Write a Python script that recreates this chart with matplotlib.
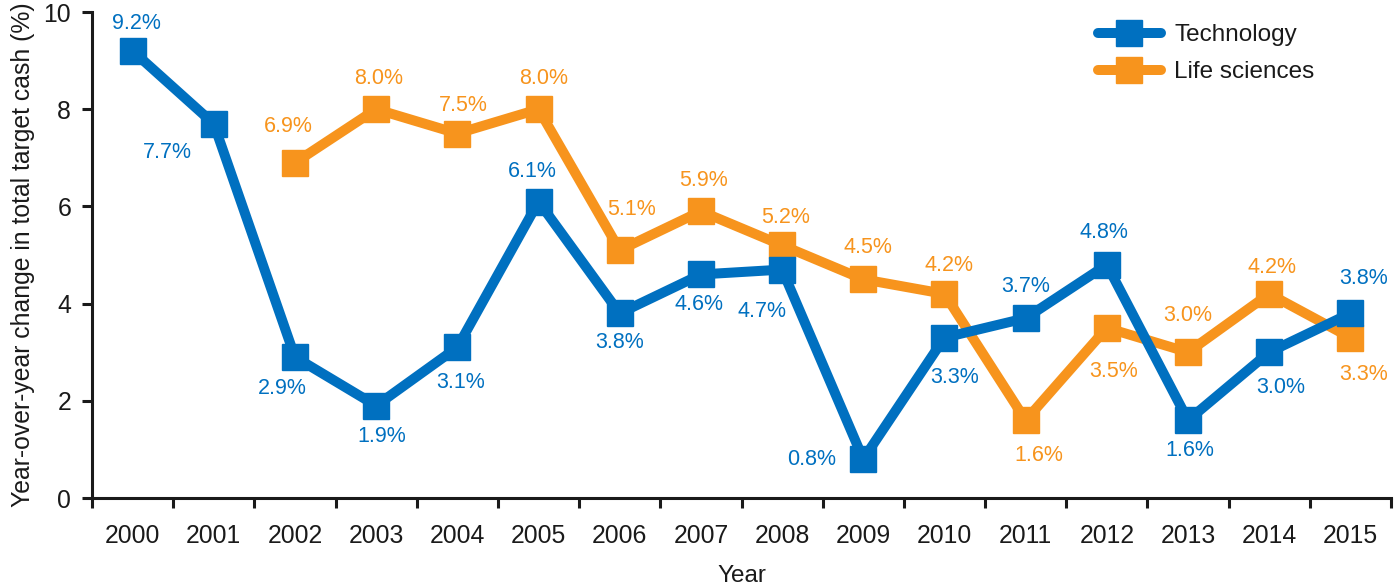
import numpy as np
import matplotlib
matplotlib.use("Agg")
from matplotlib import pyplot as plt

plt.rcParams['font.family'] = ['Liberation Sans', 'DejaVu Sans']

years = ['2000', '2001', '2002', '2003', '2004', '2005', '2006', '2007',
         '2008', '2009', '2010', '2011', '2012', '2013', '2014', '2015']
tech = [9.2, 7.7, 2.9, 1.9, 3.1, 6.1, 3.8, 4.6, 4.7, 0.8, 3.3, 3.7, 4.8, 1.6, 3.0, 3.8]
life_years = years[2:]
life = [6.9, 8.0, 7.5, 8.0, 5.1, 5.9, 5.2, 4.5, 4.2, 1.6, 3.5, 3.0, 4.2, 3.3]

# label offsets in pixels (dx, dy downward)
tech_off = [(4, -27), (-46, 29), (-13, 31), (6, 31), (3, 35), (-6, -30), (0, 29), (-2, 30),
            (-20, 42), (-52, 0), (10, 40), (0, -32), (-3, -32), (2, 30), (12, 35), (13, -35)]
life_off = [(-7, -36), (2, -31), (6, -28), (5, -31), (12, -41), (3, -31), (4, -28), (5, -32),
            (5, -28), (13, 35), (7, 44), (0, -37), (3, -26), (13, 37)]

blue = '#0070c0'
orange = '#f7941d'
ink = '#1a1a1a'

fig = plt.figure(figsize=(13.95, 5.85), dpi=100)
ax = fig.add_axes([92/1395, 1 - 498/585, (1391 - 92)/1395, (498 - 12)/585])

x_all = np.arange(len(years))
x_life = np.array([years.index(y) for y in life_years])

ax.plot(x_all, tech, color=blue, lw=7.2, marker='s', ms=18.5, solid_capstyle='round',
        solid_joinstyle='miter', label='Technology', zorder=3)
ax.plot(x_life, life, color=orange, lw=7.2, marker='s', ms=18.5, solid_capstyle='round',
        solid_joinstyle='miter', label='Life sciences', zorder=2)

for xi, v, (dx, dy) in zip(x_all, tech, tech_off):
    ax.annotate(f'{v:.1f}%', (xi, v), xytext=(dx, -dy), textcoords='offset pixels',
                ha='center', va='center', color=blue, fontsize=15.5)
for xi, v, (dx, dy) in zip(x_life, life, life_off):
    ax.annotate(f'{v:.1f}%', (xi, v), xytext=(dx, -dy), textcoords='offset pixels',
                ha='center', va='center', color=orange, fontsize=15.5)

ax.set_xlim(-0.5, len(years) - 0.5)
ax.set_ylim(0, 10)
ax.set_yticks([0, 2, 4, 6, 8, 10])
ax.set_xticks(x_all)
ax.set_xticklabels(years)
ax.set_xticks(np.arange(-0.5, len(years)), minor=True)

for s in ['top', 'right']:
    ax.spines[s].set_visible(False)
for s in ['left', 'bottom']:
    ax.spines[s].set_linewidth(2.2)
    ax.spines[s].set_color(ink)

ax.tick_params(axis='x', which='major', length=0, pad=19, labelsize=17.8, colors=ink)
ax.tick_params(axis='x', which='minor', length=7, width=2.2, color=ink)
ax.tick_params(axis='y', length=7, width=2.2, pad=8, labelsize=17.8, colors=ink)

ax.set_ylabel('Year-over-year change in total target cash (%)', fontsize=17.8,
              color=ink, labelpad=6)
ax.set_xlabel('Year', fontsize=17.5, color=ink, labelpad=12)

leg = ax.legend(loc='upper right', bbox_to_anchor=(0.958, 1.02), frameon=False, fontsize=17.5,
                handlelength=2.6, handletextpad=0.55, labelspacing=0.62)
for t in leg.get_texts():
    t.set_color(ink)

fig.savefig('out.png', dpi=100)
